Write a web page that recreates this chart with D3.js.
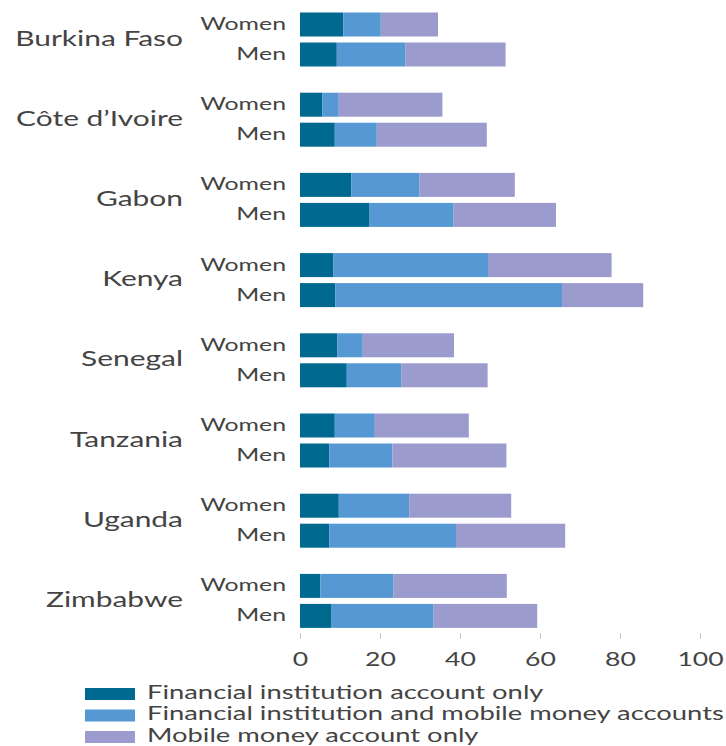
<!DOCTYPE html>
<html>
<head>
<meta charset="utf-8">
<script src="https://cdn.jsdelivr.net/npm/d3@7"></script>
<style>
  html, body { margin: 0; padding: 0; background: #fff; }
  svg { display: block; }
  text { font-family: Lato, "Open Sans", sans-serif; font-weight: 400; fill: #444; }
</style>
</head>
<body>
<svg id="chart" width="726" height="746"></svg>
<script>
const countries = ["Burkina Faso", "Côte d\u2019Ivoire", "Gabon", "Kenya", "Senegal", "Tanzania", "Uganda", "Zimbabwe"];
const genders = ["Women", "Men"];
const seriesNames = ["Financial institution account only", "Financial institution and mobile money accounts", "Mobile money account only"];
const seriesColors = ["#00698f", "#5598d3", "#9c9bcd"];
// per country: [women, men], each value for one series
const fiOnly = [[10.8, 9.2], [5.6, 8.7], [12.8, 17.4], [8.3, 8.8], [9.3, 11.7], [8.7, 7.3], [9.7, 7.3], [5.1, 7.9]];
const fiAndMobile = [[9.4, 17.2], [4.1, 10.5], [17.1, 21.0], [38.7, 56.7], [6.4, 13.6], [10.0, 15.8], [17.6, 31.7], [18.3, 25.5]];
const mobileOnly = [[14.3, 25.0], [25.9, 27.5], [23.8, 25.6], [30.9, 20.3], [22.8, 21.6], [23.5, 28.5], [25.5, 27.3], [28.3, 25.9]];
const tickValues = [0, 20, 40, 60, 80, 100];

const rows = [];
countries.forEach((c, i) => genders.forEach((g, j) => {
  rows.push({country: c, gender: g, values: [fiOnly[i][j], fiAndMobile[i][j], mobileOnly[i][j]]});
}));
const stacked = d3.stack().keys([0, 1, 2]).value((d, k) => d.values[k])(rows);

const svg = d3.select("#chart");
const x = d3.scaleLinear().domain([0, 100]).range([300, 700]);
const yC = d3.scaleBand().domain(countries).range([8, 8 + 8 * 80.2]);
const yG = d3.scaleBand().domain(genders).range([4.5, 58.5]).paddingInner(0.2);

const layers = svg.append("g").selectAll("g").data(stacked).join("g")
  .attr("fill", (d, i) => seriesColors[i]);
layers.selectAll("rect").data(d => d).join("rect")
  .attr("x", d => x(d[0]))
  .attr("width", d => x(d[1]) - x(d[0]))
  .attr("y", d => yC(d.data.country) + yG(d.data.gender))
  .attr("height", yG.bandwidth());

// country labels
svg.append("g").selectAll("text").data(countries).join("text")
  .attr("transform", d => `translate(183,${yC(d) + yG("Men") + 3}) scale(1.46,1)`)
  .attr("text-anchor", "end")
  .attr("font-size", 20.5)
  .text(d => d);

// gender labels
svg.append("g").selectAll("text").data(rows).join("text")
  .attr("transform", d => `translate(286,${yC(d.country) + yG(d.gender) + yG.bandwidth() / 2 + 1}) scale(1.42,1)`)
  .attr("text-anchor", "end")
  .attr("dominant-baseline", "middle")
  .attr("font-size", 17.5)
  .text(d => d.gender);

// axis
const axis = svg.append("g").attr("transform", "translate(0,633)")
  .call(d3.axisBottom(x).tickValues(tickValues).tickSize(6).tickPadding(13).tickFormat(d3.format("d")));
axis.select(".domain").remove();
axis.selectAll(".tick line").attr("stroke", "#c8c8c8");
axis.selectAll(".tick text")
  .attr("font-family", "Lato, sans-serif")
  .attr("font-weight", 400)
  .attr("font-size", 20)
  .attr("fill", "#444")
  .attr("transform", `scale(1.33,1)`)
  .attr("x", 0);

// legend
const legend = svg.append("g").selectAll("g").data(seriesNames).join("g")
  .attr("transform", (d, i) => `translate(85,${688 + i * 21.5})`);
legend.append("rect").attr("width", 50).attr("height", 12).attr("fill", (d, i) => seriesColors[i]);
legend.append("text")
  .attr("transform", `translate(62,6) scale(1.48,1)`)
  .attr("dominant-baseline", "middle")
  .attr("font-size", 18.5)
  .text(d => d);
</script>
</body>
</html>
